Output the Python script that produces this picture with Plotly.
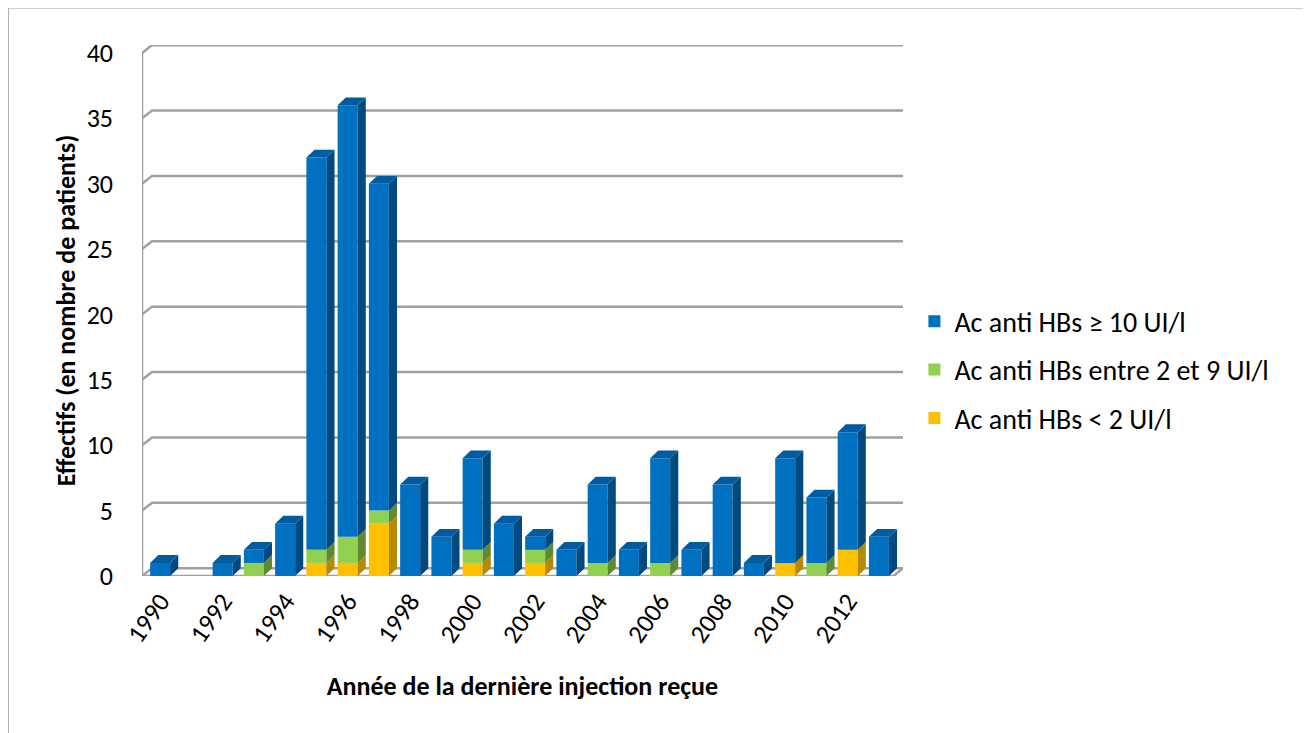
import plotly.graph_objects as go

years = list(range(1990, 2014))
sup10 = [1, 0, 1, 1, 4, 30, 33, 25, 7, 3, 7, 4, 1, 2, 6, 2, 8, 2, 7, 1, 8, 5, 9, 3]
entre2_9 = [0, 0, 0, 1, 0, 1, 2, 1, 0, 0, 1, 0, 1, 0, 1, 0, 1, 0, 0, 0, 0, 1, 0, 0]
inf2 = [0, 0, 0, 0, 0, 1, 1, 4, 0, 0, 1, 0, 1, 0, 0, 0, 0, 0, 0, 0, 1, 0, 2, 0]
y_ticks = [0, 5, 10, 15, 20, 25, 30, 35, 40]

noms = ["Ac anti HBs < 2 UI/l", "Ac anti HBs entre 2 et 9 UI/l", "Ac anti HBs ≥ 10 UI/l"]
series = [inf2, entre2_9, sup10]
rangs = [3, 2, 1]
# front, side, top
couleurs = [("#FFC000", "#B68A00", "#D9A300"),
            ("#92D050", "#5F8A34", "#7BB043"),
            ("#0070C0", "#004A80", "#005CA0")]

w = 0.64    # bar width (years)
dx = 0.26   # depth offset in x
dy = 0.6    # depth offset in y
x_min, x_max = 1989.42, 2013.77
y_max = 40.61

fig = go.Figure()

# pseudo-3D walls (drawn below the bars): back-wall gridlines slanting to the front axis
gris = dict(color="#A0A0A0", width=2.5)
murs = []
for t in y_ticks:
    murs.append(dict(type="path", xref="x", yref="y", layer="below", line=gris,
                     path=f"M {x_min},{t} L {x_min + 0.32},{t + dy} L {x_max},{t + dy}"))
murs.append(dict(type="line", xref="x", yref="y", layer="below", line=gris,
                 x0=x_min, x1=x_min, y0=0, y1=40))
murs.append(dict(type="path", xref="x", yref="y", layer="below", line=gris,
                 path=f"M {x_min},0 L {x_max - 0.3},0 L {x_max},{dy}"))

base = [0] * len(years)
faces = []
for nom, vals, rang, (cf, cs, ct) in zip(noms, series, rangs, couleurs):
    sx, sy, tx, ty = [], [], [], []
    for i, (yr, v) in enumerate(zip(years, vals)):
        if v == 0:
            continue
        y0, y1 = base[i], base[i] + v
        xr = yr + w / 2
        sx += [xr, xr + dx, xr + dx, xr, xr, None]
        sy += [y0, y0 + dy, y1 + dy, y1, y0, None]
        tot = sup10[i] + entre2_9[i] + inf2[i]
        if y1 == tot:
            xl = yr - w / 2
            tx += [xl, xl + dx, xr + dx, xr, xl, None]
            ty += [y1, y1 + dy, y1 + dy, y1, y1, None]
    fig.add_trace(go.Bar(x=years, y=vals, base=base[:], name=nom, width=w,
                         marker=dict(color=cf, line=dict(width=0)),
                         legendgroup=nom, legendrank=rang))
    faces.append((sx, sy, cs, nom))
    if tx:
        faces.append((tx, ty, ct, nom))
    base = [b + v for b, v in zip(base, vals)]

for fx, fy, c, nom in faces:
    fig.add_trace(go.Scatter(x=fx, y=fy, mode="lines", fill="toself",
                             fillcolor=c, line=dict(width=0, color=c),
                             showlegend=False, hoverinfo="skip",
                             legendgroup=nom))

police = "Calibri, Carlito, Lato, sans-serif"

cadre = dict(type="rect", xref="paper", yref="paper",
             x0=-0.176, x1=1.528, y0=-0.318, y1=1.070,
             line=dict(color="#A0A0A0", width=1.5), layer="below")

fig.update_layout(
    barmode="overlay",
    width=1311, height=733,
    paper_bgcolor="white", plot_bgcolor="white",
    margin=dict(l=134, r=416, t=37, b=165),
    font=dict(family=police, size=26, color="black"),
    showlegend=True,
    legend=dict(x=1.015, y=0.388, xanchor="left", yanchor="middle",
                traceorder="grouped", tracegroupgap=9,
                font=dict(size=28), itemwidth=30),
    xaxis=dict(range=[x_min, x_max], tickvals=years[::2],
               ticktext=[str(y) for y in years[::2]], tickangle=-55,
               showgrid=False, zeroline=False, showline=False,
               ticks="", tickfont=dict(size=26), automargin=False,
               ticklabelstandoff=4,
               title=dict(text="<b>Année de la dernière injection reçue</b>",
                          font=dict(size=26), standoff=29)),
    yaxis=dict(range=[0, y_max], tickvals=y_ticks, showgrid=False,
               zeroline=False, showline=False, ticks="",
               ticklabelstandoff=28, tickfont=dict(size=26), automargin=False,
               title=dict(text="<b>Effectifs (en nombre de patients)</b>",
                          font=dict(size=26), standoff=3)),
    shapes=[cadre] + murs,
)

fig.write_html("out.html")
